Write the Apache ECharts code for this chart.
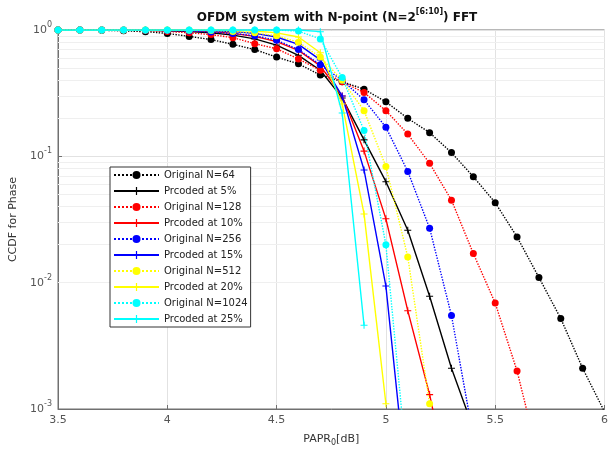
<!DOCTYPE html>
<html>
<head>
<meta charset="utf-8">
<script src="https://cdn.jsdelivr.net/npm/echarts@6/dist/echarts.min.js"></script>
<style>
html,body{margin:0;padding:0;background:#fff;}
#c{width:611px;height:456px;}
</style>
</head>
<body>
<div id="c"></div>
<script>
// PAPR0 [dB] sample points
const xs = [3.5,3.6,3.7,3.8,3.9,4.0,4.1,4.2,4.3,4.4,4.5,4.6,4.7,4.8,4.9,5.0,5.1,5.2,5.3,5.4,5.5,5.6,5.7,5.8,5.9,6.0];

const orig64   = [1.0,0.998,0.995,0.985,0.97,0.94,0.89,0.84,0.77,0.70,0.61,0.54,0.44,0.39,0.34,0.27,0.20,0.154,0.107,0.069,0.043,0.023,0.011,0.0052,0.0021,0.00095];
const prc5     = [1.0,1.0,0.999,0.997,0.993,0.985,0.97,0.95,0.91,0.85,0.76,0.63,0.48,0.29,0.135,0.063,0.026,0.0078,0.0021,0.0007,null,null,null,null,null,null];
const orig128  = [1.0,1.0,0.998,0.995,0.99,0.975,0.95,0.92,0.87,0.78,0.71,0.59,0.48,0.39,0.32,0.23,0.15,0.088,0.045,0.017,0.0069,0.0020,0.0004,null,null,null];
const prc10    = [1.0,1.0,1.0,0.999,0.997,0.993,0.985,0.97,0.94,0.89,0.81,0.69,0.52,0.30,0.11,0.032,0.006,0.0013,0.0002,null,null,null,null,null,null,null];
const orig256  = [1.0,1.0,1.0,0.999,0.997,0.99,0.98,0.965,0.94,0.90,0.83,0.70,0.53,0.40,0.28,0.17,0.076,0.027,0.0055,0.0006,null,null,null,null,null,null];
const prc15    = [1.0,1.0,1.0,1.0,0.999,0.997,0.993,0.985,0.97,0.94,0.88,0.77,0.58,0.30,0.078,0.0094,0.0002,null,null,null,null,null,null,null,null,null];
const orig512  = [1.0,1.0,1.0,1.0,0.999,0.998,0.995,0.99,0.975,0.95,0.90,0.80,0.61,0.40,0.23,0.083,0.016,0.0011,null,null,null,null,null,null,null,null];
const prc20    = [1.0,1.0,1.0,1.0,1.0,1.0,1.0,1.0,0.995,0.98,0.95,0.88,0.66,0.26,0.035,0.0011,null,null,null,null,null,null,null,null,null,null];
const orig1024 = [1.0,1.0,1.0,1.0,1.0,1.0,1.0,1.0,1.0,1.0,1.0,0.98,0.85,0.42,0.16,0.020,0.0003,null,null,null,null,null,null,null,null,null];
const prc25    = [1.0,1.0,1.0,1.0,1.0,1.0,1.0,1.0,1.0,1.0,1.0,1.0,0.97,0.22,0.0046,null,null,null,null,null,null,null,null,null,null,null];

const seriesNames = ['Original N=64','Prcoded at 5%','Original N=128','Prcoded at 10%','Original N=256','Prcoded at 15%','Original N=512','Prcoded at 20%','Original N=1024','Prcoded at 25%'];
const seriesData = [orig64,prc5,orig128,prc10,orig256,prc15,orig512,prc20,orig1024,prc25];
const seriesColors = ['#000000','#000000','#ff0000','#ff0000','#0000ff','#0000ff','#ffff00','#ffff00','#00ffff','#00ffff'];

const yTicks = [1, 0.1, 0.01, 0.001];
const xTicks = [3.5, 4, 4.5, 5, 5.5, 6];

const plusPath = 'path://M3.4,0h1.2v3.4h3.4v1.2h-3.4v3.4h-1.2v-3.4h-3.4v-1.2h3.4z';
const FONT = 'DejaVu Sans';

// minor log grid lines (2..9 x 10^k)
const minorLines = [];
[0.001, 0.01, 0.1].forEach(d => { for (let m = 2; m <= 9; m++) minorLines.push({yAxis: +(d*m).toPrecision(3)}); });

const series = seriesNames.map((name, i) => {
  const isOrig = i % 2 === 0;
  const s = {
    name: name,
    type: 'line',
    data: xs.map((x, j) => [x, seriesData[i][j]]).filter(p => p[1] !== null),
    color: seriesColors[i],
    symbol: isOrig ? 'circle' : plusPath,
    symbolSize: isOrig ? 7 : 7,
    showAllSymbol: true,
    clip: true,
    animation: false,
    lineStyle: {width: 1.4, type: isOrig ? 'dotted' : 'solid', color: seriesColors[i]},
    itemStyle: {color: seriesColors[i]},
    emphasis: {disabled: true},
    z: 3 + i
  };
  if (i === 0) {
    s.markLine = {
      silent: true, symbol: 'none', z: 1, animation: false,
      label: {show: false},
      lineStyle: {color: '#efefef', type: 'solid', width: 1},
      data: minorLines
    };
  }
  return s;
});

const chart = echarts.init(document.getElementById('c'), null, {renderer: 'canvas'});
chart.setOption({
  animation: false,
  backgroundColor: '#ffffff',
  textStyle: {fontFamily: FONT},
  title: {
    left: 332, textAlign: 'center', top: 3,
    text: '{t|OFDM system with N-point (N=2}{s|[6:10]}{t|) FFT}',
    textStyle: {
      rich: {
        t: {fontFamily: FONT, fontSize: 12, fontWeight: 'bold', color: '#111', lineHeight: 20},
        s: {fontFamily: FONT, fontSize: 8, fontWeight: 'bold', color: '#111', lineHeight: 9, verticalAlign: 'top'}
      }
    }
  },
  grid: {left: 58, right: 4, top: 30, bottom: 47, show: true, borderColor: '#707070', borderWidth: 1, backgroundColor: 'transparent'},
  legend: {
    orient: 'vertical', left: 110, top: 167,
    itemWidth: 45, itemHeight: 10, itemGap: 6,
    padding: [3, 3, 3, 3],
    backgroundColor: '#fff', borderColor: '#333', borderWidth: 1, borderRadius: 0,
    textStyle: {fontFamily: FONT, fontSize: 10, color: '#222', padding: [0, 0, 0, 0]},
    data: seriesNames
  },
  xAxis: {
    type: 'value', min: 3.5, max: 6, interval: 0.5,
    name: 'PAPR{sub|0}[dB]', nameLocation: 'middle', nameGap: 21,
    nameTextStyle: {
      fontFamily: FONT, fontSize: 11, color: '#333', lineHeight: 16,
      rich: {sub: {fontFamily: FONT, fontSize: 8, color: '#333', lineHeight: 8, verticalAlign: 'bottom'}}
    },
    axisLine: {show: true, lineStyle: {color: '#707070'}},
    axisTick: {show: true, inside: true, length: 4, lineStyle: {color: '#707070'}},
    axisLabel: {fontFamily: FONT, fontSize: 11, color: '#555', margin: 6,
      formatter: v => xTicks.some(t => Math.abs(t - v) < 1e-9) ? String(v) : ''},
    splitLine: {show: true, lineStyle: {color: '#e2e2e2', width: 1}}
  },
  yAxis: {
    type: 'log', logBase: 10, min: 0.001, max: 1,
    name: 'CCDF for Phase', nameLocation: 'middle', nameGap: 38,
    nameTextStyle: {fontFamily: FONT, fontSize: 11, color: '#333'},
    axisLine: {show: true, lineStyle: {color: '#707070'}},
    axisTick: {show: true, inside: true, length: 4, lineStyle: {color: '#707070'}},
    axisLabel: {
      fontFamily: FONT, margin: 6,
      formatter: v => {
        const e = Math.round(Math.log10(v));
        return '{b|10}{s|' + e + '}';
      },
      rich: {
        b: {fontFamily: FONT, fontSize: 11, color: '#555', lineHeight: 18},
        s: {fontFamily: FONT, fontSize: 8, color: '#555', lineHeight: 9, verticalAlign: 'top'}
      }
    },
    splitLine: {show: true, lineStyle: {color: '#e2e2e2', width: 1}}
  },
  series: series
});
</script>
</body>
</html>
